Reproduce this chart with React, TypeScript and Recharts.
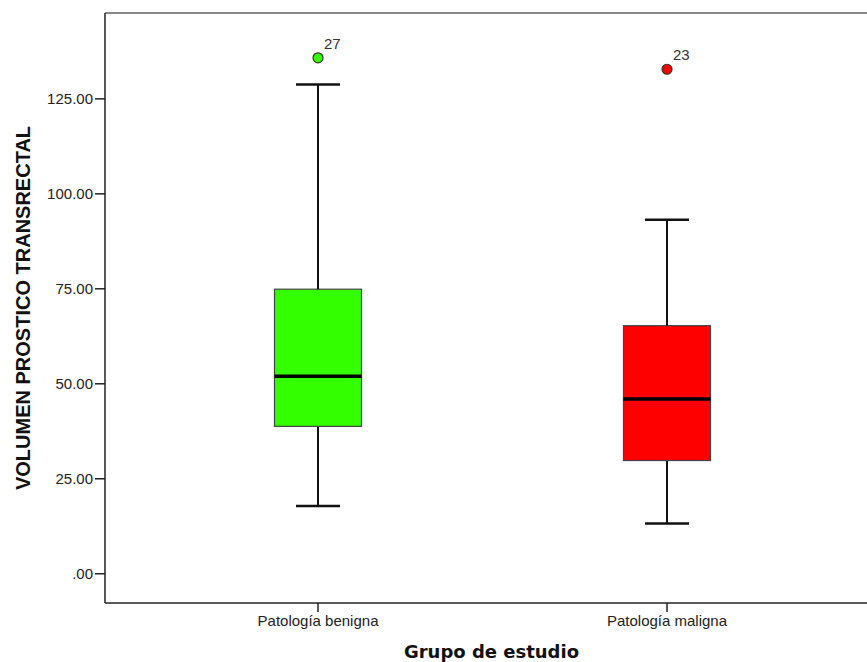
import { ComposedChart, Bar, Scatter, XAxis, YAxis, ReferenceLine } from 'recharts'

const categories = ['Patología benigna', 'Patología maligna']
const whiskerLow = [17.8, 13.2]
const q1 = [38.8, 29.8]
const median = [52.0, 46.0]
const q3 = [74.9, 65.3]
const whiskerHigh = [128.8, 93.2]
const outliers = [135.8, 132.8]
const outlierIds = ['27', '23']
const yTicks = [0, 25, 50, 75, 100, 125]

const boxColors = ['#33ff00', '#ff0000']
const Y_DOMAIN: [number, number] = [-7.7, 147.6]

const data = categories.map((name, i) => ({
  name,
  base: whiskerLow[i],
  lowerWhisker: q1[i] - whiskerLow[i],
  lowerBox: median[i] - q1[i],
  upperBox: q3[i] - median[i],
  upperWhisker: whiskerHigh[i] - q3[i],
  outlier: outliers[i],
  outlierId: outlierIds[i],
}))

const CAP = 44

const LowerWhisker = (props: any) => {
  const { x, y, width, height } = props
  const cx = x + width / 2
  return (
    <g>
      <line x1={cx} x2={cx} y1={y} y2={y + height} stroke="#111" strokeWidth={2} />
      <line x1={cx - CAP / 2} x2={cx + CAP / 2} y1={y + height} y2={y + height} stroke="#111" strokeWidth={2.5} />
    </g>
  )
}

const UpperWhisker = (props: any) => {
  const { x, y, width, height } = props
  const cx = x + width / 2
  return (
    <g>
      <line x1={cx} x2={cx} y1={y} y2={y + height} stroke="#111" strokeWidth={2} />
      <line x1={cx - CAP / 2} x2={cx + CAP / 2} y1={y} y2={y} stroke="#111" strokeWidth={2.5} />
    </g>
  )
}

const LowerBox = (props: any) => {
  const { x, y, width, height, index } = props
  return <rect x={x} y={y} width={width} height={height} fill={boxColors[index]} stroke="#444" strokeWidth={1.2} />
}

const UpperBox = (props: any) => {
  const { x, y, width, height, index } = props
  return (
    <g>
      <rect x={x} y={y} width={width} height={height} fill={boxColors[index]} stroke="#444" strokeWidth={1.2} />
      <line x1={x} x2={x + width} y1={y + height} y2={y + height} stroke="#000" strokeWidth={3.5} />
    </g>
  )
}

const OutlierDot = (props: any) => {
  const { cx, cy, index, payload } = props
  return (
    <g>
      <circle cx={cx} cy={cy} r={5} fill={boxColors[index]} stroke="#333" strokeWidth={1.2} />
      <text x={cx + 6} y={cy - 9} fontSize={15} fill="#333" fontFamily="Liberation Sans, Arial, sans-serif">
        {payload.outlierId}
      </text>
    </g>
  )
}

const YTitle = (props: any) => {
  const { viewBox } = props
  const cy = viewBox.y + viewBox.height / 2
  return (
    <text
      x={23}
      y={cy}
      transform={`rotate(-90, 23, ${cy})`}
      textAnchor="middle"
      dominantBaseline="central"
      fontSize={20}
      fontWeight="bold"
      fill="#111"
      fontFamily="Liberation Sans, Arial, sans-serif"
    >
      VOLUMEN PROSTICO TRANSRECTAL
    </text>
  )
}

const XTitle = (props: any) => {
  const { viewBox } = props
  return (
    <text
      x={viewBox.x + viewBox.width / 2 + 5.5}
      y={658}
      textAnchor="middle"
      fontSize={18}
      fontWeight="bold"
      fill="#111"
      fontFamily="DejaVu Sans, sans-serif"
    >
      Grupo de estudio
    </text>
  )
}

const formatTick = (v: number) => (v === 0 ? '.00' : v.toFixed(2))

export default function App() {
  return (
    <div style={{ position: 'absolute', left: 0, top: 0, width: 867, height: 662, background: '#fff' }}>
      <ComposedChart
        width={867}
        height={662}
        data={data}
        margin={{ top: 13, right: 0, bottom: 0, left: 0 }}
        style={{ fontFamily: 'Liberation Sans, Arial, sans-serif' }}
      >
        <XAxis
          dataKey="name"
          type="category"
          interval={0}
          padding={{ left: 38.5, right: 25.5 }}
          height={59}
          tickSize={9}
          tickMargin={3}
          axisLine={{ stroke: '#222', strokeWidth: 1.5 }}
          tickLine={{ stroke: '#222', strokeWidth: 1.5 }}
          tick={{ fill: '#222', fontSize: 15 }}
          label={<XTitle />}
        />
        <YAxis
          type="number"
          domain={Y_DOMAIN}
          allowDataOverflow
          ticks={yTicks}
          tickFormatter={formatTick}
          width={105}
          tickSize={10}
          tickMargin={2}
          axisLine={{ stroke: '#222', strokeWidth: 1.5 }}
          tickLine={{ stroke: '#222', strokeWidth: 1.5 }}
          tick={{ fill: '#222', fontSize: 15 }}
          label={<YTitle />}
        />
        <ReferenceLine y={Y_DOMAIN[1]} stroke="#888" strokeWidth={2} />
        <Bar dataKey="base" stackId="box" barSize={87} fill="transparent" isAnimationActive={false} />
        <Bar dataKey="lowerWhisker" stackId="box" barSize={87} shape={LowerWhisker} isAnimationActive={false} />
        <Bar dataKey="lowerBox" stackId="box" barSize={87} shape={LowerBox} isAnimationActive={false} />
        <Bar dataKey="upperBox" stackId="box" barSize={87} shape={UpperBox} isAnimationActive={false} />
        <Bar dataKey="upperWhisker" stackId="box" barSize={87} shape={UpperWhisker} isAnimationActive={false} />
        <Scatter dataKey="outlier" shape={OutlierDot} isAnimationActive={false} />
      </ComposedChart>
    </div>
  )
}
